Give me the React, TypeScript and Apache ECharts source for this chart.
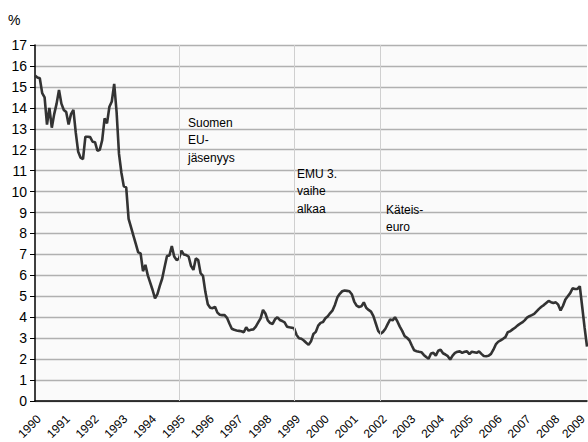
import React, { useEffect, useRef } from "react";
import * as echarts from "echarts";

const startYear = 1990;
const yTicks = { min: 0, max: 17, interval: 1 };
const eventMonths = ["1995-01", "1999-01", "2002-01"];
const eventLabels = ["Suomen\nEU-\njäsenyys", "EMU 3.\nvaihe\nalkaa", "Käteis-\neuro"];

// Monthly 12-month interest rate (%), Jan 1990 – Mar 2009
const rates: number[] = [
  15.54, 15.45, 15.41, 14.7, 14.5, 13.2, 14.0, 13.05, 13.7, 14.2, 14.85, 14.2,
  13.9, 13.8, 13.2, 13.7, 13.9, 12.8, 11.9, 11.62, 11.55, 12.62, 12.62, 12.6,
  12.38, 12.36, 11.95, 12.0, 12.46, 13.5, 13.26, 14.05, 14.3, 15.14, 13.8, 11.8,
  10.9, 10.25, 10.2, 8.7, 8.3, 7.9, 7.5, 7.1, 7.05, 6.2, 6.5, 6.0,
  5.65, 5.3, 4.9, 5.1, 5.5, 5.85, 6.4, 6.92, 6.95, 7.4, 6.9, 6.73,
  6.8, 7.18, 7.0, 6.97, 6.9, 6.45, 6.26, 6.81, 6.73, 6.1, 5.97, 5.2,
  4.62, 4.45, 4.43, 4.5, 4.22, 4.12, 4.1, 4.1, 3.97, 3.7, 3.45, 3.4,
  3.37, 3.35, 3.33, 3.28, 3.52, 3.36, 3.4, 3.42, 3.55, 3.75, 3.95, 4.35,
  4.18, 3.85, 3.72, 3.68, 3.9, 4.0, 3.87, 3.82, 3.75, 3.55, 3.52, 3.5,
  3.47, 3.15, 3.0, 2.97, 2.89, 2.78, 2.68, 2.85, 3.2, 3.3, 3.6, 3.73,
  3.77, 3.95, 4.05, 4.2, 4.33, 4.6, 4.95, 5.12, 5.24, 5.28, 5.26, 5.24,
  5.1, 4.75, 4.55, 4.49, 4.52, 4.71, 4.45, 4.35, 4.27, 4.05, 3.7, 3.35,
  3.21, 3.3, 3.45, 3.68, 3.9, 3.85, 4.0, 3.8, 3.55, 3.35, 3.1, 3.02,
  2.9, 2.65, 2.42, 2.38, 2.35, 2.33, 2.2, 2.1, 2.02, 2.27, 2.3, 2.17,
  2.4, 2.45, 2.28, 2.22, 2.14, 1.98, 2.17, 2.3, 2.35, 2.37, 2.3, 2.35,
  2.37, 2.24, 2.35, 2.33, 2.3, 2.37, 2.25, 2.15, 2.14, 2.16, 2.25, 2.45,
  2.7, 2.83, 2.9, 2.97, 3.05, 3.29, 3.33, 3.42, 3.5, 3.6, 3.68, 3.75,
  3.85, 3.98, 4.05, 4.1, 4.16, 4.28, 4.4, 4.5, 4.58, 4.68, 4.78, 4.72,
  4.68, 4.71, 4.6, 4.32, 4.55, 4.85, 5.0, 5.15, 5.38, 5.35, 5.35, 5.48,
  4.5, 3.5, 2.6,
];

const months: string[] = rates.map((_, i) => {
  const y = startYear + Math.floor(i / 12);
  const m = (i % 12) + 1;
  return `${y}-${m < 10 ? "0" + m : m}`;
});

const yearTicks: string[] = months.filter((m) => m.endsWith("-01"));

const FONT = "'Liberation Sans', Arial, sans-serif";

export default function App() {
  const ref = useRef<HTMLDivElement>(null);
  useEffect(() => {
    if (!ref.current) return;
    const chart = echarts.init(ref.current, null, { renderer: "svg" });
    const annPos = [
      { x: 188, y: 114 },
      { x: 297, y: 165 },
      { x: 386, y: 201 },
    ];
    const baseGraphic: any[] = [
      {
        type: "text",
        left: 8,
        top: 13,
        style: { text: "%", fontFamily: FONT, fontSize: 14, fill: "#000" },
      },
      ...eventLabels.map((t, i) => ({
        type: "text",
        x: annPos[i].x,
        y: annPos[i].y,
        style: {
          text: t,
          fontFamily: FONT,
          fontSize: 12,
          lineHeight: 17.5,
          fill: "#000",
        },
        z: 10,
      })),
    ];
    chart.setOption({
      animation: false,
      backgroundColor: "#ffffff",
      grid: {
        left: 35,
        right: 1,
        top: 45,
        bottom: 41,
        show: true,
        backgroundColor: "#fafafa",
        borderWidth: 0,
      },
      xAxis: {
        type: "category",
        data: months,
        boundaryGap: false,
        axisLine: { show: true, lineStyle: { color: "#000", width: 1.5 } },
        axisTick: { show: false },
        axisLabel: { show: false },
        splitLine: { show: false },
      },
      yAxis: {
        type: "value",
        min: yTicks.min,
        max: yTicks.max,
        interval: yTicks.interval,
        axisLine: { show: true, lineStyle: { color: "#000", width: 1.5 } },
        axisTick: { show: true, length: 5, lineStyle: { color: "#000" } },
        axisLabel: {
          fontFamily: FONT,
          fontSize: 14,
          color: "#000",
          margin: 8,
        },
        splitLine: { show: true, lineStyle: { color: "#b0b0b0", width: 1.3 } },
      },
      series: [
        {
          type: "line",
          data: rates,
          showSymbol: false,
          symbol: "none",
          clip: false,
          lineStyle: { color: "#333333", width: 2.6 },
          markLine: {
            silent: true,
            symbol: "none",
            label: { show: false },
            lineStyle: { color: "#cfcfcf", width: 1, type: "solid" },
            data: eventMonths.map((m) => ({ xAxis: m })),
          },
          z: 3,
        },
      ],
      graphic: baseGraphic,
    });
    const axisY = chart.convertToPixel({ yAxisIndex: 0 }, 0) as number;
    const yearLabels = yearTicks.map((m) => {
      const px = chart.convertToPixel({ xAxisIndex: 0 }, m) as number;
      return {
        type: "text",
        x: Math.min(px + 4, 583),
        y: axisY + 16,
        rotation: Math.PI / 4,
        style: {
          text: m.slice(0, 4),
          fontFamily: FONT,
          fontSize: 12,
          fill: "#000",
          align: "right",
          verticalAlign: "middle",
        },
      };
    });
    chart.setOption({ graphic: [...baseGraphic, ...yearLabels] });
    return () => chart.dispose();
  }, []);
  return (
    <div
      ref={ref}
      style={{ position: "absolute", left: 0, top: 0, width: 588, height: 442 }}
    />
  );
}
